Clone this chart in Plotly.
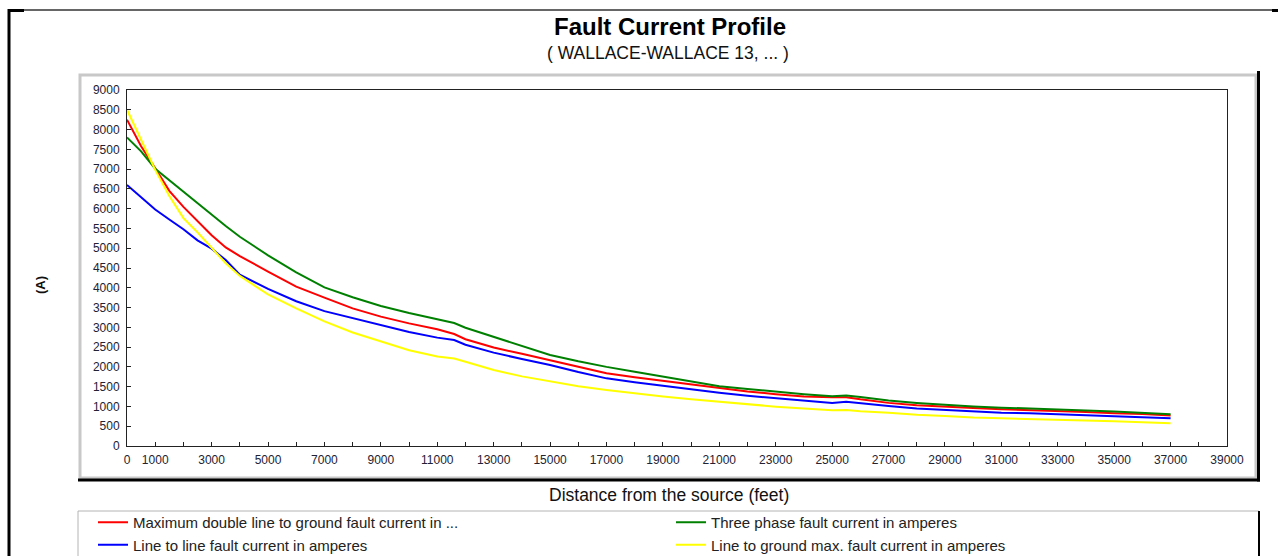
import plotly.graph_objects as go

# ---------------- data ----------------
distance_ft = [0, 500, 1000, 1500, 2000, 2500, 3000, 3500, 4000, 5000, 6000, 7000,
               8000, 9000, 10000, 11000, 11600, 12000, 13000, 14000, 15000, 16000,
               17000, 18000, 19000, 20000, 21000, 22000, 23000, 24000, 25000, 25500,
               26000, 27000, 28000, 29000, 30000, 31000, 32000, 33000, 34000, 35000,
               36000, 37000]

dlg_max_a = [8250, 7580, 7020, 6450, 6045, 5700, 5330, 5020, 4800, 4410, 4030, 3750,
             3480, 3270, 3100, 2950, 2830, 2700, 2490, 2330, 2170, 2000,
             1840, 1740, 1650, 1550, 1455, 1380, 1310, 1250, 1230, 1235,
             1180, 1090, 1030, 990, 960, 930, 910, 880, 860, 830,
             810, 770]

three_phase_a = [7800, 7450, 7010, 6720, 6420, 6130, 5830, 5560, 5290, 4820, 4390, 4010,
                 3760, 3540, 3360, 3210, 3110, 2990, 2760, 2530, 2300, 2140,
                 2000, 1880, 1760, 1630, 1510, 1440, 1370, 1310, 1260, 1275,
                 1240, 1150, 1090, 1040, 1000, 970, 950, 920, 900, 870,
                 840, 800]

line_line_a = [6600, 6280, 5980, 5725, 5480, 5200, 4990, 4700, 4330, 3970, 3660, 3410,
               3230, 3050, 2880, 2740, 2680, 2560, 2360, 2200, 2050, 1870,
               1710, 1610, 1520, 1420, 1345, 1270, 1205, 1150, 1090, 1120,
               1080, 1010, 950, 910, 870, 840, 825, 800, 780, 750,
               730, 700]

line_ground_max_a = [8500, 7760, 6980, 6320, 5760, 5400, 5000, 4620, 4300, 3830, 3480, 3150,
                     2870, 2650, 2420, 2260, 2210, 2130, 1920, 1760, 1630, 1510,
                     1415, 1330, 1250, 1180, 1115, 1050, 995, 945, 905, 910,
                     880, 840, 790, 760, 720, 700, 685, 670, 640, 625,
                     600, 575]

series_names = ["Maximum double line to ground fault current in ...",
                "Three phase fault current in amperes",
                "Line to line fault current in amperes",
                "Line to ground max. fault current in amperes"]
series_colors = ["#ff0000", "#008000", "#0000ff", "#ffff00"]

x_tick_vals = [0, 1000, 3000, 5000, 7000, 9000, 11000, 13000, 15000, 17000, 19000,
               21000, 23000, 25000, 27000, 29000, 31000, 33000, 35000, 37000, 39000]
x_tick_text = [str(v) for v in x_tick_vals]
y_tick_vals = list(range(0, 9001, 500))

chart_title = "Fault Current Profile"
chart_subtitle = "( WALLACE-WALLACE 13, ... )"
x_title = "Distance from the source (feet)"
y_title = "(A)"

# ---------------- layout geometry (pixels) ----------------
W, H = 1278, 556
PL, PR, PT, PB = 127, 1227, 90, 446  # plot area


def px(x):
    return (x - PL) / (PR - PL)


def py(y):
    return (PB - y) / (PB - PT)


FONT = "Liberation Sans, Arial, sans-serif"

fig = go.Figure()
series_values = [dlg_max_a, three_phase_a, line_line_a, line_ground_max_a]
legend_ids = ["legend", "legend2", "legend", "legend2"]
for i, (name, vals, col, lg) in enumerate(zip(series_names, series_values,
                                               series_colors, legend_ids)):
    fig.add_trace(go.Scatter(
        x=distance_ft, y=vals, mode="lines", name=name,
        line=dict(color=col, width=2),
        legend=lg, legendgroup=f"g{i}",
    ))

shapes = []
# outer frame
shapes.append(dict(type="line", xref="paper", yref="paper", x0=px(9), x1=px(1274),
                   y0=py(10), y1=py(10), line=dict(color="#333333", width=1.5)))
shapes.append(dict(type="line", xref="paper", yref="paper", x0=px(9), x1=px(24),
                   y0=py(10.5), y1=py(10.5), line=dict(color="#000000", width=3)))
shapes.append(dict(type="line", xref="paper", yref="paper", x0=px(1272), x1=px(1279),
                   y0=py(10.5), y1=py(10.5), line=dict(color="#000000", width=3)))
shapes.append(dict(type="line", xref="paper", yref="paper", x0=px(9), x1=px(9),
                   y0=py(9), y1=py(560), line=dict(color="#000000", width=3)))
# chart panel with light grey border and black drop shadow
shapes.append(dict(type="rect", xref="paper", yref="paper", layer="below",
                   x0=px(80), x1=px(1256), y0=py(75), y1=py(478),
                   fillcolor="white", line=dict(color="#c8c8c8", width=3)))
shapes.append(dict(type="line", xref="paper", yref="paper",
                   x0=px(1258.5), x1=px(1258.5), y0=py(71), y1=py(481.5),
                   line=dict(color="#000000", width=3)))
shapes.append(dict(type="line", xref="paper", yref="paper",
                   x0=px(78), x1=px(1260), y0=py(480), y1=py(480),
                   line=dict(color="#000000", width=3)))
# legend box
shapes.append(dict(type="rect", xref="paper", yref="paper", layer="below",
                   x0=px(78), x1=px(1259), y0=py(511), y1=py(580),
                   fillcolor="white", line=dict(color="#b4b4b4", width=1)))
shapes.append(dict(type="line", xref="paper", yref="paper",
                   x0=px(1259), x1=px(1259), y0=py(511), y1=py(580),
                   line=dict(color="#000000", width=2)))

annotations = [
    dict(text=chart_subtitle, xref="paper", yref="paper", x=px(668), y=py(53),
         xanchor="center", yanchor="middle", showarrow=False,
         font=dict(family=FONT, size=17.5, color="#111111")),
    dict(text=x_title, xref="paper", yref="paper", x=px(669), y=py(495),
         xanchor="center", yanchor="middle", showarrow=False,
         font=dict(family=FONT, size=17.5, color="#111111")),
    dict(text="<b>" + y_title + "</b>", xref="paper", yref="paper", x=px(40), y=py(285),
         xanchor="center", yanchor="middle", showarrow=False, textangle=-90,
         font=dict(family=FONT, size=13, color="#111111")),
]

axis_common = dict(showgrid=False, zeroline=False, showline=True, linecolor="#222222",
                   linewidth=1, mirror=True, ticks="inside", ticklen=4,
                   tickcolor="#222222", tickfont=dict(family=FONT, size=12, color="#222233"))

fig.update_layout(
    width=W, height=H,
    margin=dict(l=PL, r=W - PR, t=PT, b=H - PB, autoexpand=False),
    paper_bgcolor="white", plot_bgcolor="white",
    title=dict(text="<b>" + chart_title + "</b>", x=670 / W, xref="container",
               xanchor="center", y=1 - 27 / H, yref="container", yanchor="middle",
               font=dict(family=FONT, size=24, color="#000000")),
    xaxis=dict(range=[0, 39000], tickmode="array", tickvals=x_tick_vals,
               ticktext=x_tick_text, ticklabelstandoff=3,
               minor=dict(tickmode="linear", tick0=0, dtick=1000, ticks="inside",
                          ticklen=4, tickcolor="#222222"),
               **axis_common),
    yaxis=dict(range=[0, 9000], tickmode="array", tickvals=y_tick_vals,
               ticklabelstandoff=4, **axis_common),
    shapes=shapes,
    annotations=annotations,
    legend=dict(x=px(93), y=py(506), xanchor="left", yanchor="top",
                orientation="v", tracegroupgap=0, bgcolor="rgba(0,0,0,0)",
                borderwidth=0, font=dict(family=FONT, size=15, color="#222222")),
    legend2=dict(x=px(671), y=py(506), xanchor="left", yanchor="top",
                 orientation="v", tracegroupgap=0, bgcolor="rgba(0,0,0,0)",
                 borderwidth=0, font=dict(family=FONT, size=15, color="#222222")),
    showlegend=True,
)

fig.write_html("out.html", config={"displayModeBar": False},
               post_script="document.body.style.margin='0';"
                           "document.body.style.overflow='hidden';")
